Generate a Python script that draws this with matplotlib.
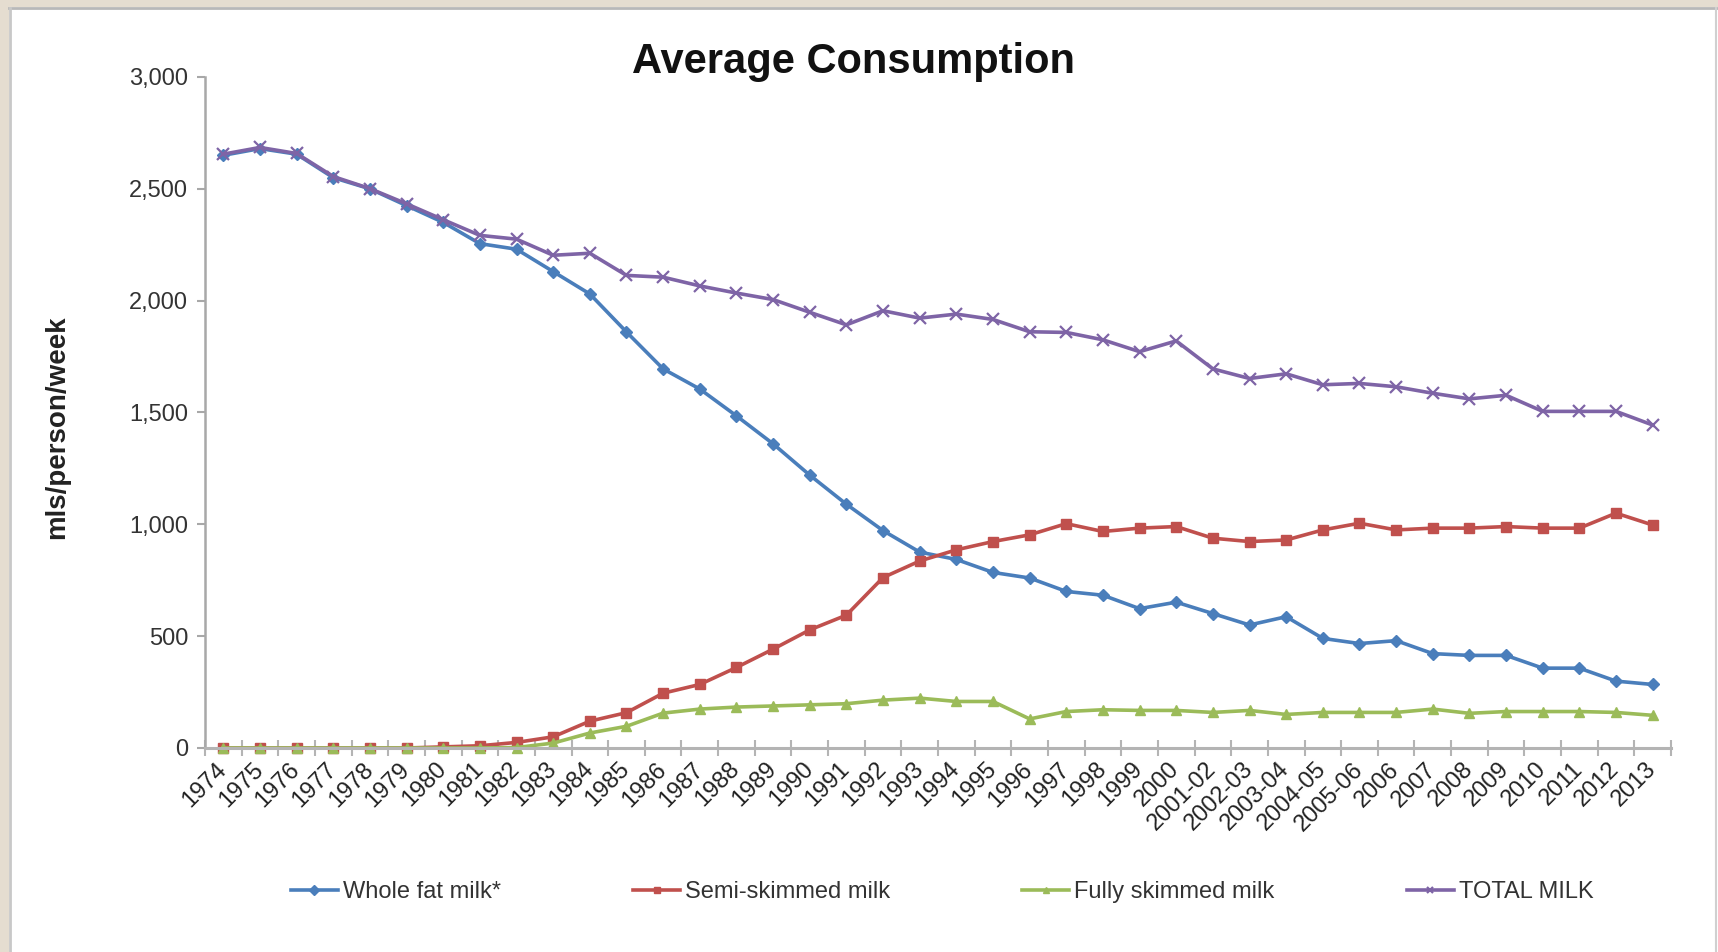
import matplotlib
matplotlib.use("Agg")
import matplotlib.pyplot as plt
from matplotlib.patches import Rectangle
from matplotlib.lines import Line2D
from matplotlib.ticker import FuncFormatter, FixedLocator

plt.rcParams['font.family'] = ['Liberation Sans', 'DejaVu Sans']

years = ["1974", "1975", "1976", "1977", "1978", "1979", "1980", "1981", "1982", "1983",
         "1984", "1985", "1986", "1987", "1988", "1989", "1990", "1991", "1992", "1993",
         "1994", "1995", "1996", "1997", "1998", "1999", "2000", "2001-02", "2002-03", "2003-04",
         "2004-05", "2005-06", "2006", "2007", "2008", "2009", "2010", "2011", "2012", "2013"]

whole_fat = [2650, 2680, 2655, 2550, 2500, 2425, 2350, 2255, 2230, 2130,
             2030, 1860, 1695, 1605, 1485, 1360, 1220, 1090, 972, 876,
             843, 785, 760, 700, 683, 623, 652, 601, 550, 587,
             490, 467, 480, 422, 414, 414, 357, 357, 299, 284]

semi_skimmed = [0, 0, 0, 0, 0, 0, 5, 10, 25, 50,
                120, 158, 245, 284, 360, 442, 528, 594, 762, 836,
                886, 923, 953, 1003, 968, 983, 990, 938, 923, 930,
                975, 1005, 975, 983, 983, 990, 983, 983, 1050, 997]

fully_skimmed = [0, 0, 0, 0, 0, 0, 0, 0, 2, 22,
                 67, 97, 156, 174, 183, 188, 193, 198, 214, 223,
                 208, 208, 130, 163, 171, 168, 168, 159, 168, 150,
                 159, 159, 159, 174, 155, 163, 163, 163, 159, 146]

total_milk = [2655, 2685, 2658, 2555, 2501, 2433, 2362, 2292, 2275, 2203,
              2212, 2113, 2105, 2066, 2034, 2005, 1948, 1892, 1955, 1922,
              1940, 1916, 1861, 1858, 1825, 1772, 1820, 1695, 1652, 1673,
              1624, 1630, 1615, 1586, 1561, 1577, 1505, 1505, 1505, 1444]

series_names = ["Whole fat milk*", "Semi-skimmed milk", "Fully skimmed milk", "TOTAL MILK"]
colors = ["#4A7EBB", "#C0504D", "#9BBB59", "#7E64A6"]
markers = ["D", "s", "^", "x"]

W, H = 1718, 952
fig = plt.figure(figsize=(W / 100, H / 100), dpi=100, facecolor="white")

# frame decoration (beige border like the screenshot)
beige = "#E5DDD0"
fig.patches.append(Rectangle((0, 1 - 7 / H), 1, 7 / H, transform=fig.transFigure,
                             facecolor=beige, edgecolor="none", zorder=0))
fig.patches.append(Rectangle((0, 0), 9 / W, 1, transform=fig.transFigure,
                             facecolor=beige, edgecolor="none", zorder=0))
fig.lines.append(Line2D([9 / W, 1], [1 - 8 / H, 1 - 8 / H], transform=fig.transFigure,
                        color="#B8B8B8", lw=2))
fig.lines.append(Line2D([10 / W, 10 / W], [0, 1 - 8 / H], transform=fig.transFigure,
                        color="#C8C8C8", lw=2))
fig.lines.append(Line2D([1 - 2 / W, 1 - 2 / W], [0, 1 - 8 / H], transform=fig.transFigure,
                        color="#D0D0D0", lw=1.5))

ax = fig.add_axes([205 / W, 1 - 748 / H, (1671 - 205) / W, (748 - 77) / H])
x = list(range(len(years)))

data = [whole_fat, semi_skimmed, fully_skimmed, total_milk]
msizes = [6.5, 6.5, 7.5, 8]
for vals, c, m, name, ms in zip(data, colors, markers, series_names, msizes):
    kw = dict(color=c, lw=2.6, marker=m, markersize=ms, label=name, clip_on=False)
    if m == "x":
        kw.update(markeredgewidth=1.6)
    else:
        kw.update(markeredgecolor=c, markerfacecolor=c)
    ax.plot(x, vals, **kw)

ax.set_xlim(-0.5, len(years) - 0.5)
ax.set_ylim(0, 3000)
ax.set_yticks(range(0, 3001, 500))
ax.yaxis.set_major_formatter(FuncFormatter(lambda v, p: f"{int(v):,}"))

for s in ["top", "right"]:
    ax.spines[s].set_visible(False)
ax.spines["left"].set_color("#A8A8A8")
ax.spines["left"].set_linewidth(1.8)
ax.spines["bottom"].set_color("#B4B4B4")
ax.spines["bottom"].set_linewidth(2.2)

ax.tick_params(axis="y", direction="out", length=6, width=1.5, color="#A8A8A8",
               labelsize=17, labelcolor="#333333", pad=6)

ax.set_xticks(x)
ax.set_xticklabels(years, rotation=45, ha="right", va="center", rotation_mode="anchor",
                   fontsize=17, color="#222222")
ax.tick_params(axis="x", which="major", length=0, pad=13)
ax.xaxis.set_minor_locator(FixedLocator([i - 0.5 for i in range(len(years) + 1)]))
ax.tick_params(axis="x", which="minor", direction="inout", length=12, width=1.5, color="#B4B4B4")

fig.text(57 / W, 1 - 427 / H, "mls/person/week", rotation=90, ha="center", va="center",
         fontsize=20, fontweight="bold", color="#222222")
fig.text(854 / W, 1 - 62 / H, "Average Consumption", ha="center", va="center",
         fontsize=30, fontweight="bold", color="#111111")

leg = fig.legend(loc="center", bbox_to_anchor=(942 / W, 1 - 892 / H), ncol=4, frameon=False,
                 fontsize=17, handlelength=2.0, handletextpad=0.2, columnspacing=5.6,
                 labelcolor="#333333")
for h in leg.legend_handles:
    h.set_markersize(5)
    h.set_linewidth(2.6)

fig.savefig("out.png", dpi=100, facecolor="white")
